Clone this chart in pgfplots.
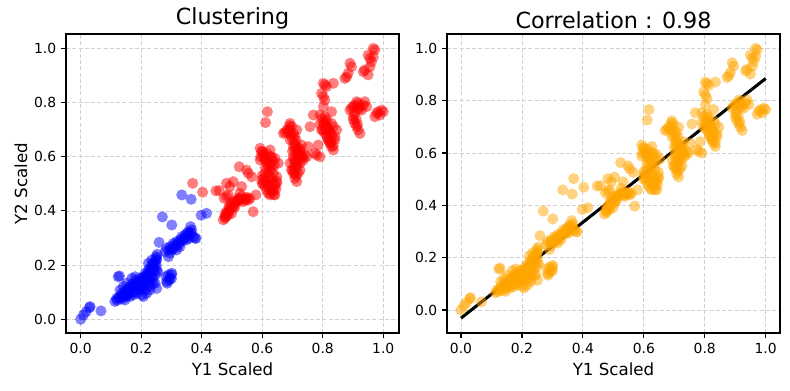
\documentclass[border=0pt]{standalone}
\usepackage{fontspec}
\setmainfont{DejaVu Sans}
\usepackage{pgfplots}
\pgfplotsset{compat=1.18}
\usepackage{pgfplotstable}

\pgfplotstableread{
x y
0 0
0.009 0.016
0.018 0.028
0.029 0.043
0.031 0.047
0.067 0.031
0.113 0.066
0.124 0.157
0.128 0.160
0.119 0.077
0.130 0.084
0.135 0.096
0.141 0.090
0.146 0.102
0.152 0.108
0.157 0.114
0.163 0.121
0.169 0.127
0.174 0.133
0.180 0.121
0.185 0.145
0.191 0.133
0.196 0.151
0.202 0.139
0.207 0.157
0.213 0.170
0.218 0.164
0.224 0.182
0.229 0.188
0.235 0.200
0.240 0.207
0.246 0.213
0.251 0.219
0.146 0.071
0.163 0.084
0.185 0.096
0.207 0.084
0.218 0.096
0.229 0.108
0.246 0.133
0.251 0.114
0.152 0.133
0.169 0.151
0.180 0.157
0.196 0.121
0.202 0.090
0.130 0.108
0.141 0.121
0.157 0.090
0.174 0.090
0.191 0.114
0.213 0.133
0.224 0.145
0.235 0.157
0.240 0.133
0.229 0.121
0.224 0.207
0.235 0.219
0.249 0.231
0.251 0.182
0.251 0.225
0.259 0.284
0.282 0.157
0.290 0.164
0.295 0.151
0.284 0.139
0.301 0.170
0.286 0.133
0.279 0.250
0.284 0.262
0.295 0.268
0.306 0.280
0.312 0.274
0.317 0.287
0.323 0.274
0.328 0.293
0.334 0.305
0.339 0.299
0.345 0.311
0.350 0.317
0.356 0.323
0.361 0.317
0.367 0.330
0.328 0.268
0.317 0.256
0.295 0.244
0.290 0.231
0.301 0.256
0.350 0.293
0.372 0.305
0.378 0.299
0.381 0.299
0.363 0.342
0.270 0.378
0.301 0.348
0.334 0.459
0.365 0.443
0.398 0.384
0.416 0.391
0.120 0.070
0.125 0.080
0.133 0.075
0.138 0.088
0.143 0.080
0.148 0.095
0.150 0.085
0.155 0.100
0.158 0.095
0.160 0.105
0.165 0.098
0.168 0.112
0.172 0.105
0.176 0.118
0.178 0.100
0.182 0.128
0.186 0.110
0.188 0.135
0.192 0.125
0.195 0.140
0.198 0.108
0.200 0.130
0.204 0.148
0.206 0.120
0.210 0.140
0.212 0.155
0.215 0.110
0.218 0.150
0.220 0.165
0.222 0.125
0.226 0.160
0.228 0.175
0.230 0.140
0.233 0.170
0.236 0.185
0.238 0.150
0.242 0.180
0.244 0.195
0.247 0.165
0.250 0.200
0.253 0.240
0.255 0.175
0.300 0.165
0.292 0.145
0.300 0.150
0.310 0.262
0.320 0.280
0.330 0.285
0.340 0.292
0.345 0.300
0.355 0.310
0.365 0.320
0.358 0.300
0.305 0.265
0.293 0.258
}\bluedata

\pgfplotstableread{
x y
0.370 0.502
0.403 0.469
0.447 0.474
0.458 0.475
0.474 0.447
0.482 0.453
0.488 0.459
0.493 0.422
0.499 0.428
0.504 0.410
0.482 0.397
0.477 0.379
0.488 0.385
0.499 0.391
0.510 0.416
0.515 0.434
0.521 0.446
0.526 0.465
0.532 0.453
0.537 0.434
0.543 0.440
0.548 0.446
0.554 0.440
0.559 0.446
0.532 0.490
0.504 0.508
0.482 0.502
0.493 0.490
0.524 0.563
0.548 0.551
0.554 0.539
0.565 0.526
0.570 0.397
0.579 0.459
0.477 0.373
0.471 0.367
0.593 0.631
0.598 0.619
0.604 0.600
0.609 0.588
0.615 0.576
0.620 0.563
0.626 0.551
0.598 0.514
0.604 0.502
0.609 0.490
0.615 0.477
0.620 0.465
0.626 0.459
0.637 0.477
0.642 0.490
0.648 0.502
0.648 0.526
0.653 0.576
0.637 0.539
0.631 0.520
0.617 0.766
0.611 0.726
0.626 0.625
0.615 0.613
0.631 0.600
0.642 0.594
0.593 0.588
0.620 0.526
0.642 0.459
0.609 0.539
0.670 0.686
0.681 0.699
0.692 0.723
0.697 0.711
0.703 0.686
0.708 0.674
0.714 0.699
0.692 0.662
0.703 0.637
0.708 0.625
0.714 0.613
0.719 0.631
0.725 0.619
0.730 0.600
0.736 0.588
0.741 0.606
0.703 0.600
0.708 0.576
0.714 0.563
0.725 0.576
0.692 0.576
0.697 0.551
0.703 0.539
0.708 0.520
0.714 0.508
0.719 0.539
0.725 0.551
0.747 0.600
0.752 0.637
0.719 0.588
0.730 0.643
0.758 0.711
0.769 0.754
0.780 0.606
0.785 0.643
0.774 0.613
0.791 0.600
0.796 0.699
0.802 0.723
0.807 0.748
0.813 0.711
0.818 0.699
0.824 0.686
0.829 0.723
0.835 0.711
0.840 0.674
0.802 0.871
0.807 0.865
0.813 0.859
0.796 0.834
0.802 0.822
0.807 0.809
0.829 0.766
0.835 0.871
0.802 0.785
0.818 0.662
0.824 0.649
0.829 0.637
0.835 0.625
0.840 0.662
0.846 0.699
0.813 0.736
0.791 0.754
0.873 0.889
0.879 0.895
0.884 0.908
0.890 0.945
0.895 0.932
0.890 0.772
0.901 0.785
0.912 0.803
0.917 0.797
0.923 0.785
0.928 0.772
0.934 0.791
0.939 0.803
0.945 0.785
0.901 0.736
0.906 0.723
0.912 0.711
0.917 0.699
0.923 0.686
0.901 0.748
0.934 0.914
0.939 0.920
0.950 0.902
0.956 0.932
0.961 0.951
0.967 0.969
0.972 0.994
0.950 0.975
0.956 0.963
0.967 1.000
0.972 0.748
0.978 0.760
0.983 0.766
0.989 0.754
0.994 0.772
1.000 0.766
0.480 0.380
0.485 0.392
0.490 0.400
0.495 0.410
0.505 0.420
0.510 0.430
0.518 0.440
0.525 0.445
0.530 0.440
0.540 0.445
0.550 0.450
0.505 0.435
0.490 0.415
0.478 0.390
0.595 0.600
0.600 0.620
0.605 0.610
0.612 0.595
0.618 0.585
0.625 0.575
0.628 0.600
0.635 0.585
0.640 0.570
0.632 0.560
0.600 0.530
0.605 0.520
0.612 0.510
0.618 0.500
0.622 0.490
0.628 0.480
0.632 0.470
0.638 0.460
0.645 0.480
0.648 0.510
0.640 0.500
0.630 0.510
0.620 0.540
0.610 0.560
0.600 0.500
0.685 0.690
0.690 0.700
0.695 0.680
0.700 0.665
0.706 0.650
0.710 0.640
0.712 0.660
0.716 0.620
0.720 0.610
0.724 0.630
0.728 0.610
0.733 0.595
0.700 0.620
0.704 0.590
0.710 0.585
0.715 0.570
0.705 0.560
0.700 0.550
0.712 0.530
0.708 0.540
0.718 0.600
0.690 0.715
0.675 0.690
0.800 0.700
0.805 0.690
0.810 0.700
0.815 0.710
0.820 0.700
0.825 0.690
0.830 0.680
0.815 0.670
0.820 0.660
0.825 0.650
0.830 0.660
0.835 0.640
0.812 0.680
0.805 0.720
0.810 0.730
0.798 0.740
0.790 0.720
0.895 0.780
0.905 0.790
0.915 0.780
0.920 0.775
0.905 0.760
0.910 0.740
0.915 0.720
}\reddata

\definecolor{mplorange}{RGB}{255,165,0}

\pgfplotsset{
  myax/.style={
    scale only axis,
    width=239.76pt, height=215.28pt,
    anchor=south west,
    xtick={0,0.2,0.4,0.6,0.8,1},
    ytick={0,0.2,0.4,0.6,0.8,1},
    /pgf/number format/.cd, fixed, fixed zerofill, precision=1, assume math mode=true,
    /pgfplots/.cd,
    tick label style={font=\fontsize{10}{12}\selectfont},
    label style={font=\fontsize{12}{14}\selectfont},
    title style={font=\fontsize{16}{19}\selectfont, yshift=-6pt},
    tick align=outside, tick pos=left,
    major tick length=3.5pt,
    every tick/.style={black, line width=0.8pt},
    axis line style={line width=0.8pt},
    grid=major,
    major grid style={dash pattern=on 3pt off 1.5pt, color=black!18, line width=0.6pt},
    xlabel={Y1 Scaled},
    xlabel style={yshift=0pt},
  },
  pts/.style={only marks, color=#1, mark=*, mark size=4pt,
    mark options={draw opacity=0, fill=#1, fill opacity=0.5}},
}

\begin{document}
\begin{tikzpicture}
\useasboundingbox (0,0) rectangle (568.8pt,280.8pt);
\begin{axis}[myax, at={(47.52pt,41.04pt)},
  xmin=-0.0486, xmax=1.052, ymin=-0.0506, ymax=1.053,
  title={Clustering}, ylabel={Y2 Scaled}, ylabel style={yshift=-2pt}]
\addplot[pts=blue] table {\bluedata};
\addplot[pts=red] table {\reddata};
\end{axis}
\begin{axis}[myax, at={(321.84pt,41.04pt)},
  xmin=-0.046, xmax=1.047, ymin=-0.088, ymax=1.055,
  title={Correlation : 0.98}]
\addplot[pts=mplorange] table {\bluedata};
\addplot[pts=mplorange] table {\reddata};
\addplot[black, line width=2.2pt] coordinates {(0,-0.031) (1,0.885)};
\end{axis}
\end{tikzpicture}
\end{document}
